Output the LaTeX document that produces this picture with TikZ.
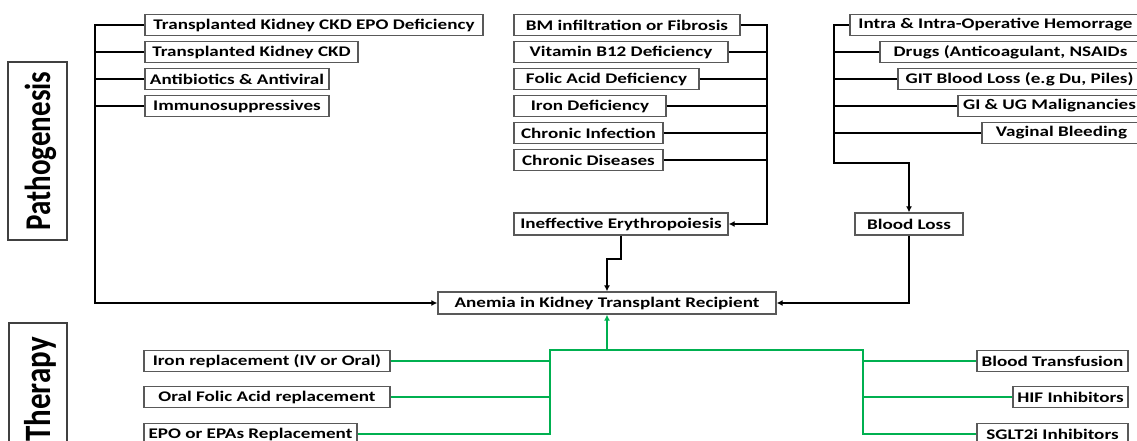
\documentclass[tikz,border=0pt]{standalone}
\usepackage{fontspec}
\usepackage{graphicx}
\setmainfont{Carlito}
\usetikzlibrary{arrows.meta}
\definecolor{gline}{RGB}{0,176,80}
\newcommand{\SX}[1]{\scalebox{1.3}[1]{#1}}
\tikzset{
  bx/.style={draw=black!65, line width=1.3pt, minimum height=21pt, inner sep=0pt,
    font=\bfseries\fontsize{14.7}{16}\selectfont, text=black},
  bline/.style={draw=black, line width=2.4pt},
  gln/.style={draw=gline, line width=2.4pt},
  tip/.style={-{Latex[length=6pt,width=6pt]}},
  side/.style={rotate=90, inner sep=0pt, font=\bfseries\fontsize{29}{32}\selectfont},
}
\begin{document}
\begin{tikzpicture}[x=1pt,y=-1pt]
\useasboundingbox (0,0) rectangle (1137,441);
% side labels
\draw[draw=black!75, line width=1.3pt] (8,62) rectangle (67,240);
\node[side, anchor=base] (patho) at (50,151) {\scalebox{1}[1.25]{Pathogenesis}};
\draw[draw=black!75, line width=1.3pt] (9,460) -- (9,323) -- (67,323) -- (67,460);
\node[side, anchor=base east, font=\bfseries\fontsize{31}{34}\selectfont] (thera) at (50,337) {\scalebox{1}[1.2]{Therapy}};

% left column
\node[bx, minimum width=338pt] (lk1) at (314,25) {\SX{Transplanted Kidney CKD EPO Deficiency}};
\node[bx, minimum width=213pt] (lk2) at (251.5,52) {\SX{Transplanted Kidney CKD}};
\node[bx, minimum width=184pt] (lk3) at (237,79) {\SX{Antibiotics \& Antiviral}};
\node[bx, minimum width=184pt] (lk4) at (237,106) {\SX{Immunosuppressives}};

% middle column
\node[bx, minimum width=226pt] (m1) at (627,25) {\SX{BM infiltration or Fibrosis}};
\node[bx, minimum width=214pt] (m2) at (621,52) {\SX{Vitamin B12 Deficiency}};
\node[bx, minimum width=185pt] (m3) at (606.5,79) {\SX{Folic Acid Deficiency}};
\node[bx, minimum width=152pt] (m4) at (590,106) {\SX{Iron Deficiency}};
\node[bx, minimum width=149pt] (m5) at (588.5,133) {\SX{Chronic Infection}};
\node[bx, minimum width=149pt] (m6) at (588.5,160) {\SX{Chronic Diseases}};
\node[bx, minimum width=214pt, minimum height=22pt] (ie) at (621,224) {\SX{Ineffective Erythropoiesis}};

% right column
\node[bx, minimum width=291pt] (r1) at (995.5,25) {\SX{Intra \& Intra-Operative Hemorrage}};
\node[bx, minimum width=261pt] (r2) at (1010.5,52) {\SX{Drugs (Anticoagulant, NSAIDs}};
\node[bx, minimum width=243pt] (r3) at (1019.5,79) {\SX{GIT Blood Loss (e.g Du, Piles)}};
\node[bx, minimum width=183pt] (r4) at (1049.5,106) {\SX{GI \& UG Malignancies}};
\node[bx, minimum width=159pt] (r5) at (1061.5,133) {\SX{Vaginal Bleeding}};
\node[bx, minimum width=108pt, minimum height=22pt] (bl) at (909,224) {\SX{Blood Loss}};

% center
\node[bx, minimum width=338pt, minimum height=22pt] (an) at (607,303) {\SX{Anemia in Kidney Transplant Recipient}};

% therapy
\node[bx, minimum width=246pt] (iron) at (267,361) {\SX{Iron replacement (IV or Oral)}};
\node[bx, minimum width=246pt] (fol) at (267,397) {\SX{Oral Folic Acid replacement}};
\node[bx, minimum width=213pt] (epo) at (250.5,434) {\SX{EPO or EPAs Replacement}};
\node[bx, minimum width=151pt] (bt) at (1052.5,361) {\SX{Blood Transfusion}};
\node[bx, minimum width=115pt] (hif) at (1070.5,397) {\SX{HIF Inhibitors}};
\node[bx, minimum width=151pt] (sg) at (1052.5,434) {\SX{SGLT2i Inhibitors}};

% trunk coordinates
\coordinate (lt) at (95,0);
\coordinate (mt) at (767,0);
\coordinate (rt) at (834,0);
\coordinate (rk) at (834,163);
\coordinate (ik) at (621,259);
\coordinate (gL) at (550,350);
\coordinate (gR) at (863,350);

% left trunk
\draw[bline, tip] (lk1.west) -- (lk1.west -| lt) -- (lt |- an.west) -- (an.west);
\foreach \n in {lk2,lk3,lk4} \draw[bline] (\n.west) -- (\n.west -| lt);

% middle trunk
\draw[bline, tip] (m1.east) -- (m1.east -| mt) -- (mt |- ie.east) -- (ie.east);
\foreach \n in {m2,m3,m4,m5,m6} \draw[bline] (\n.east) -- (\n.east -| mt);
\draw[bline, tip] (ie.south) -- (ik) -- (ik -| an.north) -- (an.north);

% right trunk
\draw[bline, tip] (r1.west) -- (r1.west -| rt) -- (rk) -- (rk -| bl.north) -- (bl.north);
\foreach \n in {r2,r3,r4,r5} \draw[bline] (\n.west) -- (\n.west -| rt);
\draw[bline, tip] (bl.south) -- (bl.south |- an.east) -- (an.east);

% therapy connectors
\draw[gln] (iron.east) -- (iron.east -| gL);
\draw[gln] (fol.east) -- (fol.east -| gL);
\draw[gln] (epo.east) -- (epo.east -| gL) -- (gL) -- (gR) -- (gR |- sg.west) -- (sg.west);
\draw[gln] (bt.west) -- (bt.west -| gR);
\draw[gln] (hif.west) -- (hif.west -| gR);
\draw[gln, tip] (gL -| an.south) -- (an.south);
\end{tikzpicture}
\end{document}
